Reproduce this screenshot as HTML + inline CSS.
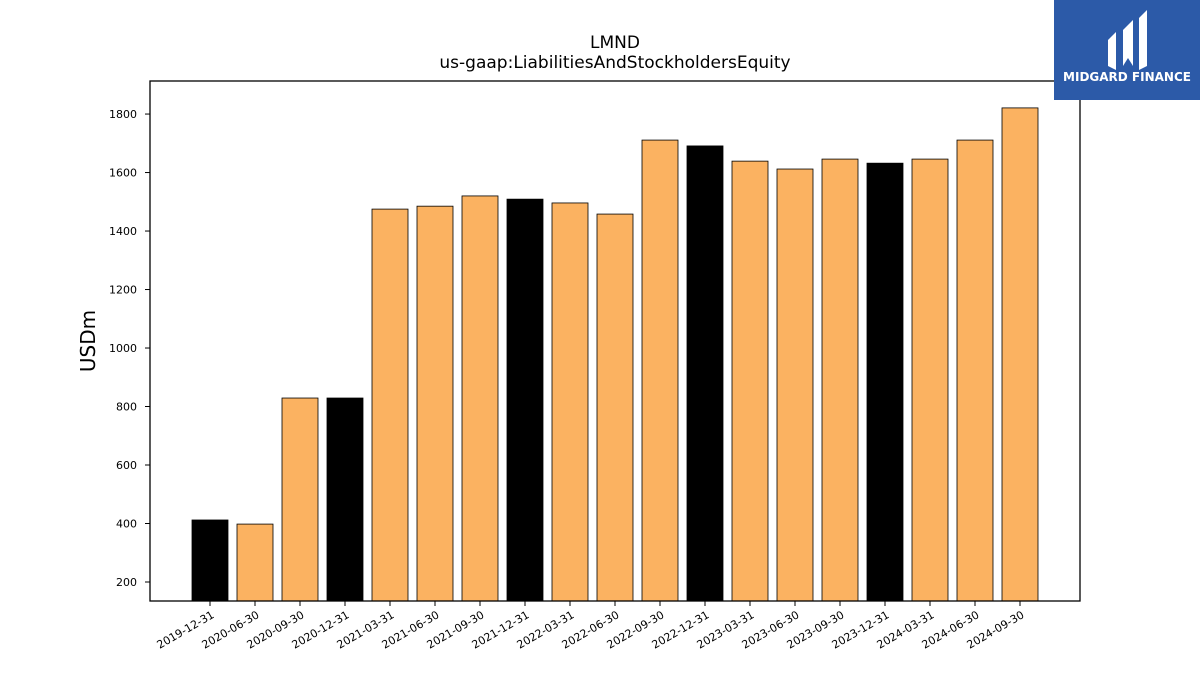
<!DOCTYPE html>
<html><head><meta charset="utf-8">
<style>
body{margin:0;background:#fff;width:1200px;height:675px;overflow:hidden;font-family:"Liberation Sans","DejaVu Sans",sans-serif}
</style></head>
<body>
<svg id="chart" width="1200" height="675" xmlns="http://www.w3.org/2000/svg" font-family="DejaVu Sans, Liberation Sans, sans-serif">
<text x="615" y="48" text-anchor="middle" font-size="17">LMND</text>
<text x="615" y="68" text-anchor="middle" font-size="17">us-gaap:LiabilitiesAndStockholdersEquity</text>
<text transform="translate(95,341) rotate(-90)" text-anchor="middle" font-size="20">USDm</text>
<g id="bars"></g>
<g id="yticks"></g>
<g id="xticks"></g>
<rect x="150" y="81" width="930" height="520" fill="none" stroke="#000" stroke-width="1.3"/>
<g>
<rect x="1054" y="0" width="146" height="100" fill="#2c5aa8"/>
<path d="M1108 40 L1116 32 L1116 70 L1108 66 Z" fill="#fff"/>
<path d="M1123 30 L1133 20 L1133 66 L1128 58 L1123 66 Z" fill="#fff"/>
<path d="M1139 18 L1147 10 L1147 66 L1139 70 Z" fill="#fff"/>
<text x="1127" y="81" text-anchor="middle" font-size="12" font-weight="bold" fill="#fff">MIDGARD FINANCE</text>
</g>
</svg>
<script>
const categories=["2019-12-31","2020-06-30","2020-09-30","2020-12-31","2021-03-31","2021-06-30","2021-09-30","2021-12-31","2022-03-31","2022-06-30","2022-09-30","2022-12-31","2023-03-31","2023-06-30","2023-09-30","2023-12-31","2024-03-31","2024-06-30","2024-09-30"];
const values=[412,398,829,829,1475,1485,1520,1509,1496,1458,1711,1691,1639,1612,1646,1632,1646,1711,1821];
const yTicks=[200,400,600,800,1000,1200,1400,1600,1800];
const NS="http://www.w3.org/2000/svg";
const yMin=135,yMax=1913,plotTop=81,plotBottom=601;
function y(v){return plotBottom-(v-yMin)/(yMax-yMin)*(plotBottom-plotTop);}
function x(i){return 210+i*45;}
const bars=document.getElementById('bars');
values.forEach((v,i)=>{
 const r=document.createElementNS(NS,'rect');
 
 
 r.setAttribute('x',x(i)-18);r.setAttribute('width',36);
 r.setAttribute('y',y(v));r.setAttribute('height',plotBottom-y(v));
 r.setAttribute('fill',categories[i].endsWith('12-31')?'#000':'#fbb261');
 r.setAttribute('stroke','#000');r.setAttribute('stroke-width','0.8');
 bars.appendChild(r);
});
const yt=document.getElementById('yticks');
yTicks.forEach(t=>{
 const l=document.createElementNS(NS,'line');
 
 
 l.setAttribute('x1',145);l.setAttribute('x2',150);l.setAttribute('y1',y(t));l.setAttribute('y2',y(t));l.setAttribute('stroke','#000');
 yt.appendChild(l);
 const s=document.createElementNS(NS,'text');
 
 
 s.setAttribute('x',137);s.setAttribute('y',y(t)+4);s.setAttribute('text-anchor','end');s.setAttribute('font-size','11');
 s.textContent=t;yt.appendChild(s);
});
const xt=document.getElementById('xticks');
categories.forEach((c,i)=>{
 const l=document.createElementNS(NS,'line');
 
 
 l.setAttribute('x1',x(i));l.setAttribute('x2',x(i));l.setAttribute('y1',601);l.setAttribute('y2',606);l.setAttribute('stroke','#000');
 xt.appendChild(l);
 const s=document.createElementNS(NS,'text');
 
 
 s.setAttribute('transform','translate('+(x(i)+5)+',617) rotate(-30)');
 s.setAttribute('text-anchor','end');s.setAttribute('font-size','11');
 s.textContent=c;xt.appendChild(s);
});
</script>
</body></html>
